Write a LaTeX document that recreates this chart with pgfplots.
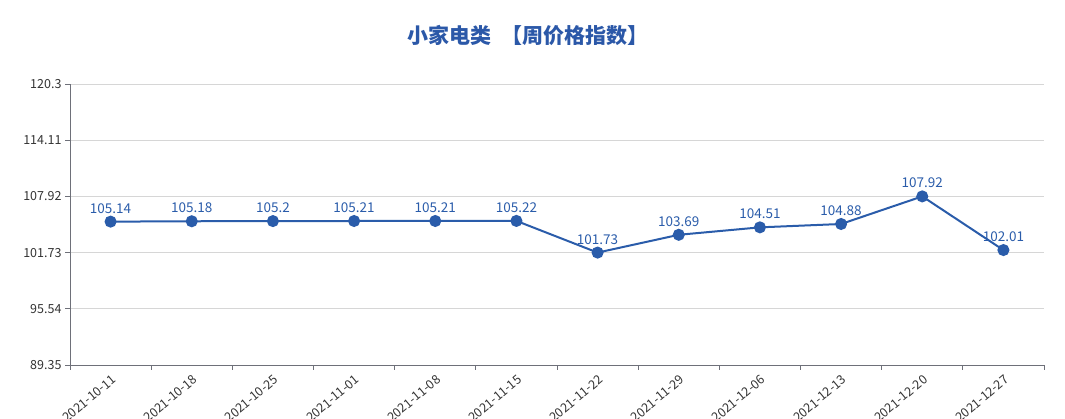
\documentclass[border=0pt]{standalone}
\usepackage{pgfplots}
\pgfplotsset{compat=1.18}
\usepackage{fontspec}
\setmainfont{Noto Sans CJK SC}
\definecolor{lineblue}{HTML}{2A5CAA}
\definecolor{titleblue}{HTML}{2B58A8}
\definecolor{axisgray}{HTML}{6E7079}
\definecolor{gridgray}{HTML}{D6D6D6}
\definecolor{labelgray}{HTML}{333333}

\pgfplotstableread{
x y lab
0 105.14 105.14
1 105.18 105.18
2 105.2 105.2
3 105.21 105.21
4 105.21 105.21
5 105.22 105.22
6 101.73 101.73
7 103.69 103.69
8 104.51 104.51
9 104.88 104.88
10 107.92 107.92
11 102.01 102.01
}\pricedata

\begin{document}
\begin{tikzpicture}
\path[use as bounding box] (0pt,0pt) rectangle (1065pt,419pt);
\node[font=\bfseries\fontsize{21}{24}\selectfont, text=titleblue] at (528pt,384pt) {小家电类\hspace{10pt}【周价格指数】};
\begin{axis}[
  at={(70pt,54pt)}, anchor=south west,
  scale only axis, width=974pt, height=281pt,
  xmin=-0.5, xmax=11.5,
  ymin=89.35, ymax=120.3,
  axis x line*=bottom, axis y line*=left,
  axis line style={axisgray, line width=0.8pt},
  ytick={89.35,95.54,101.73,107.92,114.11,120.3},
  yticklabels={89.35,95.54,101.73,107.92,114.11,120.3},
  ymajorgrids, major grid style={gridgray, line width=0.8pt},
  xtick={0,...,11},
  xticklabels={2021-10-11,2021-10-18,2021-10-25,2021-11-01,2021-11-08,2021-11-15,2021-11-22,2021-11-29,2021-12-06,2021-12-13,2021-12-20,2021-12-27},
  x tick label style={rotate=40, anchor=north east, xshift=1pt, font=\fontsize{12.5}{14}\selectfont},
  minor xtick={-0.5,0.5,...,11.5},
  major x tick style={draw=none},
  tick style={axisgray, line width=0.8pt},
  tick align=outside,
  major tick length=5pt, minor tick length=5pt,
  ticklabel style={font=\fontsize{12.5}{14}\selectfont, text=labelgray},
  /pgf/number format/assume math mode=true,
  clip=false,
]
\addplot[lineblue, line width=2pt, mark=*, mark size=5pt,
  nodes near coords, point meta=explicit symbolic,
  every node near coord/.style={font=\fontsize{13.5}{16}\selectfont, text=lineblue, yshift=4pt}]
  table[x=x, y=y, meta=lab] {\pricedata};
\end{axis}
\end{tikzpicture}
\end{document}
